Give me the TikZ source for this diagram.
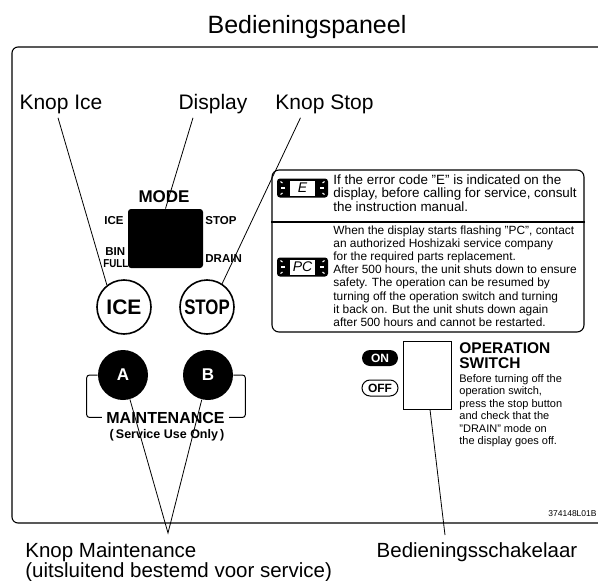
\documentclass[tikz,border=0pt]{standalone}
\usepackage{fontspec}
\setmainfont{Liberation Sans}
\usetikzlibrary{calc}
\newcommand\lcdicon[4]{%
  \node[fill=black, rounded corners=3pt, minimum width=51pt, minimum height=19pt, inner sep=0pt] (#1) at (#2,#3) {};
  \node[fill=white, minimum width=25pt, minimum height=15pt, inner sep=0pt, font=\itshape\fontsize{14}{14}\selectfont] (#1w) at (#2,#3) {#4};
  \foreach \s in {-1,1}{
    \draw[white, line width=1.1pt] ($(#1.center)+(\s*20,-5)$) -- ++(\s*2,-1.5);
    \draw[white, line width=1.1pt] ($(#1.center)+(\s*17.5,0)$) -- ++(\s*4,0);
    \draw[white, line width=1.1pt] ($(#1.center)+(\s*20,5)$) -- ++(\s*2,1.5);
  }
}
\begin{document}
\begin{tikzpicture}[x=1pt,y=-1pt,line width=0.8pt,
  lbl/.style={font=\fontsize{21}{21}\selectfont, anchor=base, inner xsep=0pt, inner ysep=4pt},
  small/.style={font=\bfseries\fontsize{11.5}{11.5}\selectfont, inner sep=0pt},
  btn/.style={circle, draw, line width=1.6pt, minimum size=54pt, inner sep=0pt, font=\bfseries\fontsize{21}{21}\selectfont},
  mbtn/.style={circle, fill=black, minimum size=50pt, inner sep=0pt, text=white, font=\bfseries\fontsize{17}{17}\selectfont},
  pill/.style={rounded corners=8pt, minimum width=36pt, minimum height=16pt, inner sep=0pt, font=\bfseries\fontsize{12}{12}\selectfont},
  body/.style={anchor=base west, inner sep=0pt, font=\fontsize{11}{11}\selectfont},
  ebody/.style={anchor=base west, inner sep=0pt, font=\fontsize{13.4}{13.4}\selectfont},
  pbody/.style={anchor=base west, inner sep=0pt, font=\fontsize{11.9}{11.9}\selectfont}]
\useasboundingbox (0,0) rectangle (598,581);

% title and frame
\node[anchor=base, inner sep=0pt, font=\fontsize{25}{25}\selectfont] (title) at (307,33) {Bedieningspaneel};
\draw[line width=1.1pt, rounded corners=6pt] (598,47) -- (12,47) -- (12,523) -- (598,523);

% top labels
\node[lbl] (kice) at (61,109) {Knop Ice};
\node[lbl] (kdisp) at (213,109) {Display};
\node[lbl] (kstop) at (324.5,109) {Knop Stop};

% mode display
\node[anchor=base, inner sep=0pt, font=\bfseries\fontsize{17}{17}\selectfont] (mode) at (164,202) {MODE};
\node[fill=black, rounded corners=3pt, minimum width=75pt, minimum height=59pt, inner sep=0pt] (screen) at (165.5,238.5) {};
\node[small, anchor=base east] (lice) at (124,224) {ICE};
\node[small, anchor=base west] (lstop) at (205,224) {STOP};
\node[small, anchor=base west] (lbin) at (105,255) {BIN};
\node[small, anchor=base west] (lfull) at (103,267) {\scalebox{0.85}[1]{FULL}};
\node[small, anchor=base west] (ldrain) at (205,262) {DRAIN};

% buttons
\node[btn] (ice) at (124,307) {ICE};
\node[btn] (stop) at (207,307) {\scalebox{0.8}[1]{STOP}};
\node[mbtn] (A) at (123,375) {A};
\node[mbtn] (B) at (208,375) {B};
\node[anchor=base, inner sep=0pt, font=\bfseries\fontsize{16}{16}\selectfont] (maint) at (165.5,423) {MAINTENANCE};
\node[anchor=base, inner sep=0pt, font=\bfseries\fontsize{12.5}{12.5}\selectfont] (svc) at (167,438) {(\,Service Use Only\,)};
\draw[line width=1pt, rounded corners=3pt] (A.west) -- ++(-11,0) |- ([xshift=-4pt]maint.west);
\draw[line width=1pt, rounded corners=3pt] (B.east) -- ++(12,0) |- ([xshift=4pt]maint.east);

% info box
\node[draw, line width=1.1pt, rounded corners=7pt, minimum width=312pt, minimum height=162pt, inner sep=0pt] (info) at (428,251) {};
\draw[line width=1.1pt] (info.west |- 0,222) -- (info.east |- 0,222);
\lcdicon{iconE}{302.5}{188}{E}
\lcdicon{iconPC}{302.5}{267}{PC}
\foreach \t [count=\i] in {{If the error code "E" is indicated on the},{display, before calling for service, consult},{the instruction manual.}}
  \node[ebody] (te\i) at (333,{184+13.5*(\i-1)}) {\t};
\foreach \t [count=\i] in {{When the display starts flashing "PC", contact},{an authorized Hoshizaki service company},{for the required parts replacement.},{After 500 hours, the unit shuts down to ensure},{safety. The operation can be resumed by},{turning off the operation switch and turning},{it back on. But the unit shuts down again},{after 500 hours and cannot be restarted.}}
  \node[pbody] (tp\i) at (333,{234+13.2*(\i-1)}) {\t};

% operation switch
\node[pill, fill=black, text=white] (on) at (380,358) {ON};
\node[pill, draw, line width=1pt] (off) at (380,388) {OFF};
\node[draw, line width=1pt, minimum width=48pt, minimum height=68pt, inner sep=0pt] (sw) at (427,375) {};
\node[anchor=north west, inner sep=0pt, align=left, font=\bfseries\fontsize{15.5}{15.5}\selectfont] (op) at (459,342) {OPERATION\\SWITCH};
\foreach \t [count=\i] in {{Before turning off the},{operation switch,},{press the stop button},{and check that the},{"DRAIN" mode on},{the display goes off.}}
  \node[body] (ts\i) at (459,{382+12.5*(\i-1)}) {\t};

\node[anchor=base east, inner sep=0pt, font=\fontsize{8.5}{8.5}\selectfont] (code) at (597,516) {374148L01B};

% bottom labels
\node[anchor=base west, inner sep=0pt, font=\fontsize{20.5}{20.5}\selectfont] (kmaint) at (25,557) {Knop Maintenance};
\node[anchor=base west, inner sep=0pt, font=\fontsize{20.5}{20.5}\selectfont] (kmaint2) at (25,577) {(uitsluitend bestemd voor service)};
\node[anchor=base, inner sep=0pt, font=\fontsize{20.5}{20.5}\selectfont] (kschak) at (477,557) {Bedieningsschakelaar};
\coordinate (apex) at (168,533);
\coordinate (swend) at (445,535);

% connectors
\draw ([xshift=-3pt]kice.south) -- (ice.128);
\draw ([xshift=-20pt]kdisp.south) -- (screen.north);
\draw ([xshift=-24pt]kstop.south) -- (stop.57);
\draw (A) -- (apex) -- (B);
\draw ([xshift=3pt]sw.south) -- (swend);
\end{tikzpicture}
\end{document}
